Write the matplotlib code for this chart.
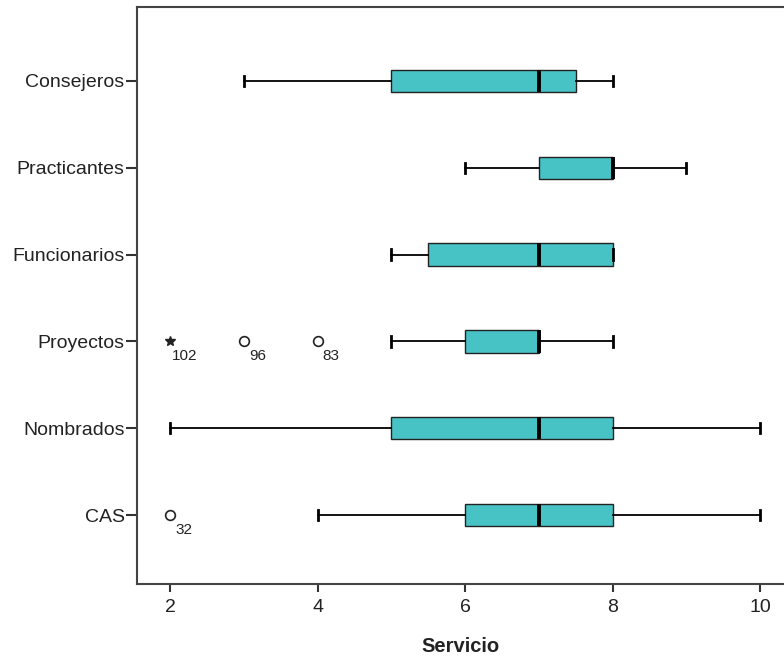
import matplotlib
matplotlib.use("Agg")
import matplotlib.pyplot as plt

plt.rcParams['font.family'] = ['Liberation Sans', 'DejaVu Sans']

categories = ["CAS", "Nombrados", "Proyectos", "Funcionarios", "Practicantes", "Consejeros"]
whislo = [4, 2, 5, 5, 6, 3]
q1 = [6, 5, 6, 5.5, 7, 5]
med = [7, 7, 7, 7, 8, 7]
q3 = [8, 8, 7, 8, 8, 7.5]
whishi = [10, 10, 8, 8, 9, 8]

# outliers: (category, value, case label, kind)
out_cat = ["CAS", "Proyectos", "Proyectos", "Proyectos"]
out_val = [2, 2, 3, 4]
out_lab = ["32", "102", "96", "83"]
out_kind = ["o", "*", "o", "o"]

x_ticks = [2, 4, 6, 8, 10]
x_label = "Servicio"

W, H = 784, 657
fig = plt.figure(figsize=(W / 100, H / 100), dpi=100)
ax = fig.add_axes([137 / W, 1 - 584 / H, (W - 137) / W, (584 - 7) / H])

stats = []
for i in range(len(categories)):
    stats.append(dict(whislo=whislo[i], q1=q1[i], med=med[i], q3=q3[i],
                      whishi=whishi[i], fliers=[]))

pos = list(range(len(categories)))
ax.bxp(stats, positions=pos, vert=False, widths=0.26, patch_artist=True,
       showfliers=False, capwidths=0.12,
       boxprops=dict(facecolor="#48C3C5", edgecolor="#222222", linewidth=1.0),
       medianprops=dict(color="black", linewidth=2.8),
       whiskerprops=dict(color="black", linewidth=1.3),
       capprops=dict(color="black", linewidth=2.0))

for c, v, lab, k in zip(out_cat, out_val, out_lab, out_kind):
    y = categories.index(c)
    if k == "o":
        ax.plot(v, y, marker="o", markersize=7, markerfacecolor="white",
                markeredgecolor="#222222", markeredgewidth=1.2, linestyle="none", zorder=5)
    else:
        ax.plot(v, y, marker="*", markersize=7, color="#222222", linestyle="none", zorder=5)
    ax.annotate(lab, (v, y), xytext=(2 if k == "*" else 5, -15), textcoords="offset pixels",
                fontsize=11, color="#222222", ha="left", va="center")

px_per_unit = (760 - 170) / 8
ax.set_xlim(2 - (170 - 137) / px_per_unit, 10 + (784 - 760) / px_per_unit)
sp = (515 - 81) / 5
ax.set_ylim(0 - (584 - 515) / sp, 5 + (81 - 7) / sp)

ax.set_yticks(pos)
ax.set_yticklabels(categories, fontsize=14, color="#222222")
ax.set_xticks(x_ticks)
ax.set_xticklabels([str(t) for t in x_ticks], fontsize=14, color="#222222")
ax.tick_params(axis="y", direction="out", length=8, width=1.5, color="#333333", pad=1)
ax.tick_params(axis="x", direction="out", length=6, width=1.5, color="#333333", pad=5)
ax.set_xlabel(x_label, fontsize=14.5, fontweight="bold", color="#222222", labelpad=15)

for s in ["top", "left", "bottom"]:
    ax.spines[s].set_color("#444444")
    ax.spines[s].set_linewidth(1.5)
ax.spines["right"].set_visible(False)

fig.savefig("out.png", dpi=100)
